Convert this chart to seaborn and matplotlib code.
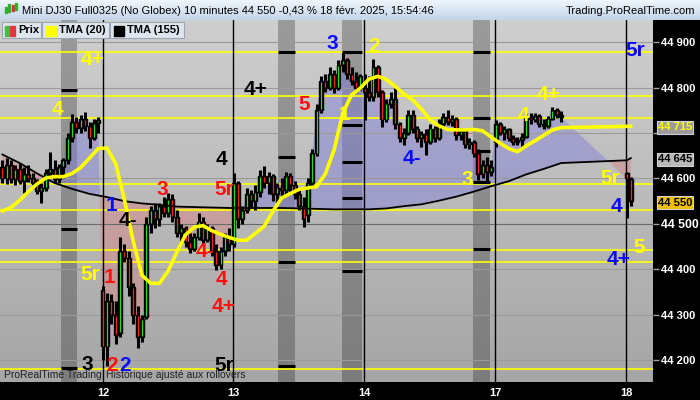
import numpy as np
import pandas as pd
import matplotlib
matplotlib.use("Agg")
import matplotlib.pyplot as plt
import seaborn as sns
from matplotlib.patches import Rectangle, Polygon
from matplotlib.colors import LinearSegmentedColormap

sns.set_theme(style="white")
plt.rcParams['font.family'] = ['Liberation Sans', 'DejaVu Sans']

# ---------------- data ----------------
candle_slots = list(range(0, 129)) + [143, 144]
opens = [
    44625, 44600, 44630, 44598, 44620, 44595, 44610, 44600, 44590, 44572, 44580, 44612,
    44620, 44598, 44625, 44640, 44690, 44725, 44712, 44730, 44715, 44690, 44722,
    # day 12
    44355, 44230, 44330, 44300, 44260, 44440, 44425, 44360, 44300, 44250, 44295, 44500,
    44530, 44510, 44540, 44525, 44555, 44515, 44480, 44490, 44460, 44445, 44470, 44505,
    44465, 44490, 44440, 44410, 44440, 44470,
    # day 13
    44455, 44590, 44510, 44530, 44565, 44550, 44570, 44605, 44590, 44605, 44565, 44580,
    44575, 44605, 44585, 44565, 44540, 44520, 44590, 44655, 44750, 44815, 44800, 44830,
    44800, 44850, 44860, 44830, 44815, 44800,
    # day 14
    44800, 44790, 44780, 44845, 44790, 44730, 44765, 44775, 44720, 44690, 44700, 44740,
    44710, 44690, 44698, 44680, 44710, 44690, 44720, 44735, 44725, 44730, 44695, 44705,
    44675, 44680, 44655, 44610, 44630, 44615,
    # day 17
    44680, 44720, 44700, 44708, 44690, 44680, 44685, 44692, 44735, 44730, 44738, 44720,
    44715, 44732, 44750, 44740,
    # day 18
    44612, 44598]
highs = [
    44640, 44645, 44640, 44630, 44635, 44625, 44630, 44612, 44598, 44590, 44620, 44658,
    44640, 44632, 44645, 44700, 44742, 44735, 44740, 44747, 44725, 44730, 44735,
    44362, 44348, 44345, 44330, 44471, 44455, 44440, 44370, 44320, 44300, 44515, 44540,
    44545, 44545, 44560, 44569, 44565, 44530, 44500, 44495, 44480, 44480, 44524, 44515,
    44500, 44495, 44455, 44450, 44480, 44490,
    44612, 44595, 44540, 44580, 44575, 44585, 44618, 44627, 44615, 44610, 44590, 44600,
    44615, 44612, 44595, 44580, 44560, 44600, 44665, 44765, 44825, 44830, 44846, 44840,
    44860, 44877, 44865, 44845, 44835, 44830,
    44830, 44825, 44863, 44850, 44795, 44775, 44790, 44800, 44725, 44712, 44751, 44750,
    44715, 44705, 44710, 44720, 44715, 44730, 44745, 44751, 44740, 44735, 44712, 44710,
    44690, 44685, 44665, 44640, 44648, 44640,
    44729, 44725, 44715, 44712, 44695, 44692, 44700, 44744, 44745, 44745, 44742, 44730,
    44738, 44758, 44755, 44748,
    44615, 44603]
lows = [
    44590, 44588, 44590, 44585, 44588, 44567, 44592, 44585, 44565, 44547, 44572, 44600,
    44590, 44590, 44600, 44632, 44680, 44700, 44700, 44705, 44668, 44685, 44700,
    44200, 44187, 44280, 44235, 44250, 44415, 44340, 44280, 44227, 44240, 44290, 44480,
    44490, 44495, 44515, 44515, 44505, 44470, 44460, 44450, 44435, 44440, 44465, 44455,
    44460, 44430, 44398, 44400, 44430, 44440,
    44450, 44490, 44500, 44525, 44535, 44530, 44560, 44580, 44565, 44550, 44545, 44560,
    44565, 44570, 44555, 44530, 44493, 44505, 44580, 44650, 44745, 44790, 44795, 44788,
    44795, 44835, 44820, 44805, 44790, 44795,
    44729, 44770, 44770, 44780, 44713, 44725, 44755, 44710, 44680, 44674, 44695, 44700,
    44680, 44670, 44652, 44675, 44680, 44685, 44712, 44718, 44715, 44685, 44685, 44668,
    44665, 44648, 44597, 44600, 44592, 44605,
    44670, 44695, 44685, 44683, 44674, 44674, 44670, 44690, 44720, 44725, 44713, 44710,
    44712, 44728, 44733, 44724,
    44513, 44540]
closes = [
    44600, 44630, 44598, 44620, 44595, 44610, 44600, 44590, 44572, 44580, 44612, 44620,
    44598, 44625, 44640, 44690, 44725, 44712, 44730, 44715, 44690, 44722, 44728,
    44230, 44330, 44300, 44255, 44440, 44425, 44360, 44300, 44250, 44290, 44500, 44530,
    44510, 44540, 44525, 44555, 44515, 44480, 44490, 44460, 44445, 44470, 44505, 44465,
    44490, 44440, 44410, 44440, 44470, 44455,
    44590, 44510, 44530, 44565, 44550, 44570, 44605, 44590, 44605, 44565, 44580, 44575,
    44605, 44585, 44565, 44540, 44510, 44590, 44655, 44750, 44815, 44800, 44830, 44800,
    44850, 44860, 44830, 44815, 44800, 44825,
    44790, 44780, 44845, 44790, 44730, 44765, 44775, 44720, 44690, 44700, 44740, 44710,
    44690, 44698, 44680, 44710, 44690, 44720, 44735, 44725, 44730, 44695, 44705, 44675,
    44680, 44655, 44610, 44630, 44615, 44625,
    44720, 44700, 44708, 44690, 44680, 44685, 44692, 44735, 44730, 44738, 44720, 44715,
    44732, 44750, 44740, 44735,
    44600, 44550]

tma20_slots = list(range(0, 129, 2)) + [144]
tma20 = [44528, 44536, 44552, 44571, 44588, 44601, 44604, 44604, 44611, 44624, 44645, 44666,
         44667, 44633, 44553, 44462, 44387, 44369, 44369, 44396, 44438, 44476, 44493, 44496,
         44485, 44477, 44470, 44464, 44464, 44479, 44495, 44528, 44557, 44567, 44576, 44579,
         44582, 44610, 44663, 44744, 44784, 44799, 44819, 44825, 44818, 44803, 44786, 44773,
         44753, 44729, 44716, 44708, 44707, 44707, 44708, 44705, 44691, 44678, 44666, 44659,
         44672, 44683, 44695, 44707, 44712, 44715]
tma155_slots = list(range(0, 129, 4)) + [143, 144]
tma155 = [44653, 44634, 44611, 44590, 44577, 44566, 44559, 44550, 44545, 44542, 44538, 44537,
          44536, 44535, 44535, 44535, 44535, 44534, 44533, 44532, 44532, 44532, 44534, 44539,
          44543, 44551, 44560, 44571, 44583, 44594, 44609, 44621, 44634, 44640, 44645]

levels = [44878, 44781, 44733, 44587, 44530, 44442, 44415, 44181]
bands = [(13.47, 17.13), (63.16, 67.05), (77.8, 82.4), (107.8, 111.7)]
band_marks = [[44795, 44488, 44183],
              [44878, 44647, 44415, 44186],
              [44878, 44718, 44636, 44556, 44396],
              [44878, 44733, 44661, 44592, 44445]]
day_pos = [23.2, 52.85, 82.85, 112.85, 142.85]
day_labels = ["12", "13", "14", "17", "18"]
price_ticks = [44200, 44300, 44400, 44500, 44600, 44700, 44800, 44900]

label_text = ["4+", "4", "5r", "3", "1", "4-", "3", "1", "2", "2", "4-", "4", "5r", "4", "4+",
              "5r", "4+", "5", "3", "2", "1", "4-", "3", "4", "4+", "5r", "5r", "4", "4+", "5"]
label_color = ["Y", "Y", "Y", "K", "B", "K", "R", "R", "R", "B", "R", "K", "R", "R", "R",
               "K", "K", "R", "B", "Y", "Y", "B", "Y", "Y", "Y", "B", "Y", "B", "B", "Y"]
label_x = [20.8, 12.55, 20.1, 19.4, 25.1, 28.8, 36.6, 24.5, 25.1, 28.1, 46.4, 50.1, 50.8, 50.1,
           50.8, 50.8, 58.1, 69.1, 75.5, 85.1, 78.5, 93.8, 106.4, 119.3, 125.2, 144.9, 139.2,
           140.6, 141.2, 145.8]
label_y = [44861, 44751, 44388, 44190, 44540, 44507, 44575, 44381, 44188, 44188, 44438, 44641,
           44575, 44377, 44319, 44188, 44795, 44762, 44898, 44890, 44740, 44645, 44597, 44738,
           44786, 44881, 44599, 44538, 44421, 44449]
palette = {"Y": "#ffff00", "K": "#000000", "R": "#ff1010", "B": "#0a0aff"}

# ---------------- figure ----------------
W, H = 700, 400
fig = plt.figure(figsize=(7, 4), dpi=100, facecolor="black")
ax = fig.add_axes([0, 18 / H, 653 / W, 362 / H])
XMIN, XMAX = -0.5, 149.03
YMIN, YMAX = 44151.6, 44949.1

grad = LinearSegmentedColormap.from_list("bg", ["#cfcfcf", "#a6a6a6"])
ax.imshow(np.linspace(0, 1, 256).reshape(-1, 1), cmap=grad, aspect="auto",
          extent=[XMIN, XMAX, YMIN, YMAX], origin="upper", zorder=0)

for b0, b1 in bands:
    ax.axvspan(b0, b1, color="black", alpha=0.25, lw=0, zorder=0.5)

# fill between close and TMA155
xs = np.array(candle_slots, dtype=float)
o = np.array(opens, float); h = np.array(highs, float)
l = np.array(lows, float); c = np.array(closes, float)
t_x = np.array(tma155_slots, float); t_y = np.array(tma155, float)
poly_pts = list(zip(xs, c)) + list(zip(t_x[::-1], t_y[::-1]))
above = Polygon(list(zip(t_x, t_y)) + [(t_x[-1], YMAX), (t_x[0], YMAX)], transform=ax.transData)
below = Polygon(list(zip(t_x, t_y)) + [(t_x[-1], YMIN), (t_x[0], YMIN)], transform=ax.transData)
f1 = Polygon(poly_pts, closed=True, facecolor="#8080d8", alpha=0.48, lw=0, zorder=1)
f2 = Polygon(poly_pts, closed=True, facecolor="#d88080", alpha=0.45, lw=0, zorder=1)
ax.add_patch(f1); ax.add_patch(f2)
f1.set_clip_path(above); f2.set_clip_path(below)

for p in price_ticks:
    ax.axhline(p, color="#6a6a6a" if p == 44500 else "#9a9a9a", lw=0.8, zorder=1.2)
for lv in levels:
    ax.axhline(lv, color="#ffff00", lw=1.2, zorder=1.5)
for (b0, b1), marks in zip(bands, band_marks):
    ax.hlines(marks, b0 + 0.1, b1 - 0.1, color="black", lw=2.2, zorder=1.6)
for d in day_pos:
    ax.axvline(d, color="black", lw=1.0, zorder=1.7)

# candles
up = c >= o
ax.vlines(xs, l, h, color="black", lw=2.2, zorder=3)
body_lo = np.minimum(o, c)
body_h = np.maximum(np.abs(c - o), 4)
ax.bar(xs, body_h, bottom=body_lo, width=0.85, color="black", edgecolor="black", lw=1.0, zorder=3)
ax.vlines(xs[up], o[up] + 2, c[up] - 2, color="#22dd22", lw=0.9, zorder=3.5)
ax.vlines(xs[~up], c[~up] + 2, o[~up] - 2, color="#ff2020", lw=0.9, zorder=3.5)

# TMA lines
df155 = pd.DataFrame({"slot": tma155_slots, "v": tma155})
df20 = pd.DataFrame({"slot": tma20_slots, "v": tma20})
sns.lineplot(data=df155, x="slot", y="v", color="black", lw=1.3, ax=ax, zorder=4)
sns.lineplot(data=df20, x="slot", y="v", color="#ffff00", lw=2.6, ax=ax, zorder=4.2)

for t, col, x, y in zip(label_text, label_color, label_x, label_y):
    ax.text(x, y, t, color=palette[col], fontsize=15, fontweight="bold",
            ha="center", va="center", zorder=6)

ax.set_xlim(XMIN, XMAX)
ax.set_ylim(YMIN, YMAX)
ax.set_xlabel(""); ax.set_ylabel("")
for s in ax.spines.values():
    s.set_visible(False)
ax.yaxis.tick_right()
ax.set_yticks(price_ticks)
ax.set_yticklabels(["" if p == 44700 else f"{p:,}".replace(",", " ") for p in price_ticks])
ax.tick_params(axis="y", which="both", right=True, length=4, width=1, color="#a0a0a0",
               labelcolor="white", labelsize=8, pad=2)
for lab in ax.get_yticklabels():
    lab.set_fontweight("bold")
    if lab.get_text() == "44 500":
        lab.set_fontsize(8.8)
ax.set_xticks(day_pos)
ax.set_xticklabels(day_labels)
ax.tick_params(axis="x", which="both", bottom=True, length=0, labelcolor="white",
               labelsize=8, pad=4)
for lab in ax.get_xticklabels():
    lab.set_fontweight("bold")

ax.text(0.5, 44168, "ProRealTime Trading", fontsize=7.5, color="#202020",
        ha="left", va="center", zorder=5)
ax.text(23.7, 44168, "Historique ajusté aux rollovers", fontsize=7.5, color="#202020",
        ha="left", va="center", zorder=5)

# ---------------- title bar ----------------
tax = fig.add_axes([0, 380 / H, 1, 20 / H])
tgrad = LinearSegmentedColormap.from_list("tb", ["#f0f6fc", "#c3d5e9"])
tax.imshow(np.linspace(0, 1, 64).reshape(-1, 1), cmap=tgrad, aspect="auto",
           extent=[0, 700, 20, 0], origin="upper")
tax.set_xlim(0, 700); tax.set_ylim(20, 0)
tax.axis("off")
for i, (yb, yt, colr) in enumerate([(13, 7, "#30b030"), (12, 4, "#30b030"), (11, 5, "#e03030"), (10, 3, "#30b030")]):
    tax.add_patch(Rectangle((5 + i * 3.3, yt), 2, yb - yt, color=colr))
tax.text(22, 10.5, "Mini DJ30 Full0325 (No Globex) 10 minutes 44 550 -0,43 % 18 févr. 2025, 15:54:46",
         fontsize=8, color="black", ha="left", va="center")
tax.text(695, 10.5, "Trading.ProRealTime.com", fontsize=8, color="black", ha="right", va="center")

# ---------------- overlay (legend boxes, price boxes) ----------------
ov = fig.add_axes([0, 0, 1, 1], facecolor="none")
ov.set_xlim(0, 700); ov.set_ylim(400, 0); ov.axis("off")
for x0, x1, txt, kind in [(2, 41, "Prix", "prix"), (42, 109, "TMA (20)", "y"), (110, 184, "TMA (155)", "k")]:
    ov.add_patch(Rectangle((x0, 21.5), x1 - x0, 16, facecolor="#dde6ee", edgecolor="#9aa6b2", lw=0.8))
    if kind == "prix":
        ov.add_patch(Rectangle((5, 26), 5, 10, color="#40c040"))
        ov.add_patch(Rectangle((10, 26), 5, 10, color="#f03040"))
        tx = 18
    else:
        ov.add_patch(Rectangle((x0 + 4, 26), 10, 10, color="#ffff00" if kind == "y" else "black"))
        tx = x0 + 17
    ov.text(tx, 30, txt, fontsize=8, fontweight="bold", color="black", ha="left", va="center")

for yc, txt, bg, fg in [(127.5, "44 715", "#9c9c9c", "#ffff00"),
                        (159.5, "44 645", "#b8b8b8", "black"),
                        (202.5, "44 550", "#f0c000", "black")]:
    ov.add_patch(Rectangle((657, yc - 6.5), 36, 13, facecolor=bg, edgecolor="#d0d0d0", lw=0.8))
    ov.text(675, yc, txt, fontsize=8, fontweight="bold", color=fg, ha="center", va="center")

fig.savefig("out.png", dpi=100, facecolor=fig.get_facecolor())
